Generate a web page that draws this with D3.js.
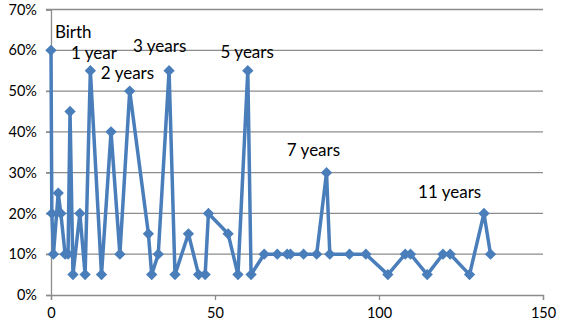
<!DOCTYPE html>
<html>
<head>
<meta charset="utf-8">
<script src="https://cdn.jsdelivr.net/npm/d3@7"></script>
<style>
  body { margin: 0; background: #fff; }
  text { font-family: Lato, 'Open Sans', sans-serif; }
</style>
</head>
<body>
<div id="chart"><svg></svg></div>
<script>
// age in months, share in percent
const ages = [0, 0.25, 0.75, 2.2, 3, 4.3, 5.2, 5.8, 6.7, 8.8, 10.4, 12, 15.4, 18.3, 21, 24,
  29.7, 30.7, 32.7, 36, 37.8, 41.9, 45, 47, 48, 54, 57, 60, 61, 65, 69, 72, 73, 77, 81, 84, 85,
  91, 96, 102.7, 108, 109.6, 114.7, 119.5, 121.7, 127.6, 132, 134]
const shares = [60, 20, 10, 25, 20, 10, 10, 45, 5, 20, 5, 55, 5, 40, 10, 50,
  15, 5, 10, 55, 5, 15, 5, 5, 20, 15, 5, 55, 5, 10, 10, 10, 10, 10, 10, 30, 10,
  10, 10, 5, 10, 10, 5, 10, 10, 5, 20, 10]

const labelText = ['Birth', '1 year', '2 years', '3 years', '5 years', '7 years', '11 years']
const labelX = [1.2, 6.1, 15.2, 25, 51.7, 71.9, 111.9]
const labelY = [62.9, 57.8, 53, 59.5, 58.2, 34.1, 23.7]

const xTicks = [0, 50, 100, 150]
const yTicks = [0, 10, 20, 30, 40, 50, 60, 70]

const width = 561
const height = 330
const margin = { top: 9.5, right: 18, bottom: 35, left: 51 }

const svg = d3.select('#chart').select('svg')
  .attr('width', width)
  .attr('height', height)

const x = d3.scaleLinear().domain([0, 150]).range([margin.left, width - margin.right])
const y = d3.scaleLinear().domain([0, 70]).range([height - margin.bottom, margin.top])

// horizontal gridlines
svg.append('g')
  .selectAll('line')
  .data(yTicks.slice(1))
  .join('line')
  .attr('x1', margin.left - 5)
  .attr('x2', width - margin.right)
  .attr('y1', d => y(d))
  .attr('y2', d => y(d))
  .attr('stroke', '#8c8c8c')
  .attr('stroke-width', 1.3)

// y axis
const yAxis = svg.append('g')
  .attr('transform', `translate(${margin.left},0)`)
  .call(d3.axisLeft(y).tickValues(yTicks).tickFormat(d => d + '%').tickSize(5).tickPadding(9))
yAxis.select('.domain').attr('stroke', '#8c8c8c').attr('stroke-width', 1.3)
yAxis.selectAll('.tick line').attr('stroke', '#8c8c8c').attr('stroke-width', 1.3)
yAxis.selectAll('text').attr('font-size', 14.5).attr('fill', '#000')
  .style('font-family', 'Lato, sans-serif')

// x axis
const xAxis = svg.append('g')
  .attr('transform', `translate(0,${y(0)})`)
  .call(d3.axisBottom(x).tickValues(xTicks).tickSize(5).tickPadding(8))
xAxis.select('.domain').attr('stroke', '#8c8c8c').attr('stroke-width', 1.3)
xAxis.selectAll('.tick line').attr('stroke', '#8c8c8c').attr('stroke-width', 1.3)
xAxis.selectAll('text').attr('font-size', 14.5).attr('fill', '#000')
  .style('font-family', 'Lato, sans-serif')

const data = ages.map((a, i) => ({ age: a, share: shares[i] }))

const line = d3.line()
  .x(d => x(d.age))
  .y(d => y(d.share))

svg.append('path')
  .datum(data)
  .attr('d', line)
  .attr('fill', 'none')
  .attr('stroke', '#4a7ebb')
  .attr('stroke-width', 3.5)
  .attr('stroke-linejoin', 'round')

// diamond markers: squares turned 45 degrees
svg.append('g')
  .selectAll('path')
  .data(data)
  .join('path')
  .attr('d', d3.symbol(d3.symbolSquare, 64))
  .attr('transform', d => `translate(${x(d.age)},${y(d.share)}) rotate(45)`)
  .attr('fill', '#4a7ebb')

// annotations
svg.append('g')
  .selectAll('text')
  .data(labelText)
  .join('text')
  .attr('x', (d, i) => x(labelX[i]))
  .attr('y', (d, i) => y(labelY[i]))
  .attr('font-size', 17)
  .attr('fill', '#000')
  .text(d => d)
</script>
</body>
</html>
